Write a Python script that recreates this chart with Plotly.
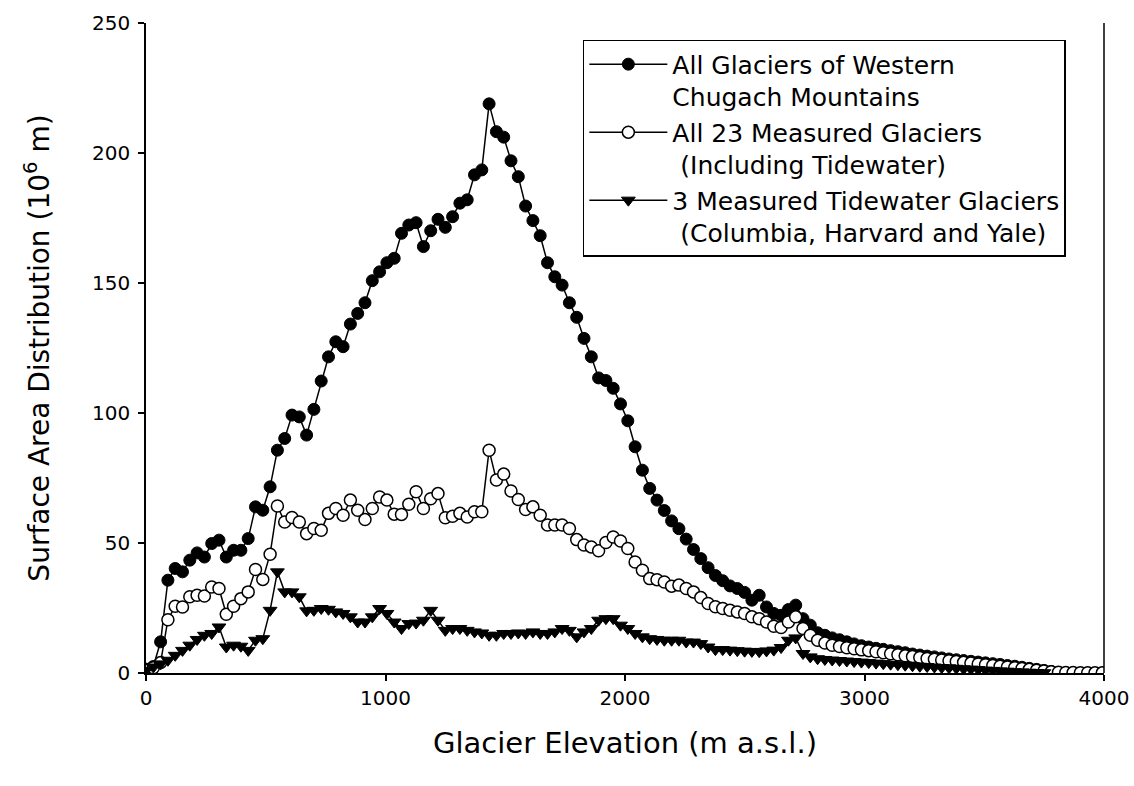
import plotly.graph_objects as go

# elevation bins are 100 ft wide, plotted in metres
elev_ft = list(range(0, 13200, 100))
elev_m = [f * 0.3048 for f in elev_ft]

all_western_chugach = [
    1.5, 2.5, 12, 35.7, 40.2, 38.9, 43.4, 46.2, 44.6, 49.8,
    51.1, 44.6, 47.2, 47.2, 51.7, 63.9, 62.6, 71.6, 85.7, 90.2,
    99.2, 98.5, 91.5, 101.4, 112.3, 121.6, 127.4, 125.5, 134.2, 138.3,
    142.4, 150.9, 154.3, 157.8, 159.5, 169.1, 172.3, 173.2, 164, 170.1,
    174.5, 171.4, 175.5, 180.7, 182, 191.6, 193.5, 218.9, 208.2, 206.1,
    197, 190.9, 179.6, 174, 168.2, 157.8, 152.4, 149.2, 142.4, 136.8,
    128.7, 121.6, 113.5, 112.5, 109.5, 103.5, 97, 87, 78, 71,
    66.5, 62.5, 58.5, 55.5, 51.5, 47.5, 44, 40.5, 37.5, 35.5,
    33.5, 32.5, 31, 28, 29.9, 25.4, 22.9, 22.2, 24.4, 26.1,
    20.9, 18.4, 15.5, 14.5, 13.5, 12.8, 12, 11.2, 10.5, 10,
    9.5, 9.1, 8.6, 8.2, 7.8, 7.3, 6.9, 6.5, 6.2, 5.8,
    5.4, 5.1, 4.8, 4.5, 4.2, 3.9, 3.6, 3.3, 2.9, 2.6,
    2.2, 1.8, 1.4, 1.0, 0.6,
]

measured_23 = [
    1, 2, 4, 20.5, 25.7, 25.4, 29.3, 29.9, 29.6, 33.1,
    32.5, 22.6, 25.7, 28.6, 31.2, 39.8, 36, 45.7, 64.2, 58.1,
    59.8, 58.1, 53.6, 55.6, 54.9, 61.4, 63.3, 60.7, 66.5, 62.6,
    59, 63.3, 67.7, 66.5, 61.1, 61, 64.9, 69.7, 63.3, 67,
    69, 59.7, 60.3, 61.4, 60, 62, 62, 85.7, 74.2, 76.5,
    70, 66.7, 62.9, 63.9, 60.7, 56.9, 56.9, 56.9, 55.6, 51.3,
    49.2, 48.5, 47, 50.2, 52.3, 50.8, 47.9, 42.7, 39.5, 36.3,
    35.9, 35, 33.4, 33.8, 32.5, 31.2, 29, 26.7, 25.5, 24.8,
    24.1, 23.5, 22.9, 21.6, 20.9, 19.6, 18, 17.5, 19.6, 21.6,
    17.1, 14.5, 12.6, 11.5, 10.7, 10.2, 9.7, 9.3, 8.9, 8.6,
    8.2, 7.8, 7.4, 7.0, 6.6, 6.3, 6.0, 5.6, 5.3, 5.0,
    4.7, 4.4, 4.1, 3.8, 3.5, 3.2, 2.9, 2.6, 2.3, 2.0,
    1.7, 1.4, 1.1, 0.8, 0.5, 0.3, 0.2, 0.15, 0.1, 0.1,
    0.05, 0.05,
]

tidewater_3 = [
    1, 2.3, 3.5, 4.9, 6.8, 8.7, 10.7, 12.9, 14.5, 15.2,
    17.7, 10, 10.7, 10.3, 8.7, 12.6, 13.2, 24.1, 38.9, 31.2,
    31.2, 29.3, 23.9, 24.1, 24.8, 24.5, 23.5, 22.9, 21.6, 19.6,
    19.6, 21.6, 24.8, 22.9, 19.6, 17.1, 19, 19.2, 20.3, 24.1,
    20.3, 16.4, 17.1, 17.1, 16.4, 15.8, 15.4, 14.5, 14.5, 15.2,
    15.2, 15.4, 15.2, 15.8, 15.2, 15.2, 15.8, 17.1, 16.4, 13.9,
    15.8, 17.1, 20.3, 20.9, 20.9, 18.4, 17.1, 15.2, 13.9, 13.2,
    12.9, 12.6, 12.6, 12.6, 11.9, 11.9, 11.3, 10, 9, 9,
    8.8, 8.6, 8.4, 8.3, 8.2, 8.5, 8.8, 9.8, 12.6, 13.5,
    7.5, 6.2, 5.5, 5.2, 5.0, 4.8, 4.6, 4.4, 4.2, 4.0,
    3.8, 3.6, 3.4, 3.2, 3.0, 2.8, 2.6, 2.5, 2.3, 2.1,
    2.0, 1.8, 1.6, 1.5, 1.3, 1.1, 1.0, 0.8, 0.7, 0.5,
    0.4, 0.3, 0.2, 0.1,
]

names = [
    "All Glaciers of Western<br>Chugach Mountains",
    "All 23 Measured Glaciers<br>\u00a0(Including Tidewater)",
    "3 Measured Tidewater Glaciers<br>\u00a0(Columbia, Harvard and Yale)",
]

font_name = "DejaVu Sans"
ink = "#000000"

fig = go.Figure()

fig.add_trace(go.Scatter(
    x=elev_m[:len(all_western_chugach)], y=all_western_chugach,
    name=names[0], mode="lines+markers",
    line=dict(color=ink, width=1.5),
    marker=dict(symbol="circle", size=12, color=ink, line=dict(color=ink, width=1)),
))
fig.add_trace(go.Scatter(
    x=elev_m[:len(measured_23)], y=measured_23,
    name=names[1], mode="lines+markers",
    line=dict(color=ink, width=1.5),
    marker=dict(symbol="circle", size=12, color="white", line=dict(color=ink, width=1.5)),
))
fig.add_trace(go.Scatter(
    x=elev_m[:len(tidewater_3)], y=tidewater_3,
    name=names[2], mode="lines+markers",
    line=dict(color=ink, width=1.5),
    marker=dict(symbol="triangle-down", size=12, color=ink, line=dict(color=ink, width=1)),
))

fig.update_layout(
    width=1134, height=786,
    margin=dict(l=146, r=30, t=23, b=113),
    paper_bgcolor="white", plot_bgcolor="white",
    font=dict(family=font_name, color=ink, size=20),
    showlegend=True,
    legend=dict(
        x=0.456, y=0.974, xanchor="left", yanchor="top",
        bgcolor="white", bordercolor=ink, borderwidth=1.5,
        font=dict(family=font_name, size=25, color=ink),
        valign="top", itemwidth=78, tracegroupgap=4,
    ),
)

fig.update_xaxes(
    range=[0, 4000], tickvals=[0, 1000, 2000, 3000, 4000],
    showgrid=False, zeroline=False, automargin=False,
    showline=True, linecolor=ink, linewidth=1.5,
    ticks="outside", ticklen=6, tickwidth=1.5, tickcolor=ink,
    tickfont=dict(family=font_name, size=20),
    title=dict(text="Glacier Elevation (m a.s.l.)", font=dict(family=font_name, size=29), standoff=24),
)
fig.update_yaxes(
    range=[0, 250], tickvals=[0, 50, 100, 150, 200, 250],
    showgrid=False, zeroline=False, automargin=False,
    showline=True, linecolor=ink, linewidth=1.5,
    ticks="outside", ticklen=6, tickwidth=1.5, tickcolor=ink,
    tickfont=dict(family=font_name, size=20), ticklabelstandoff=4,
    title=dict(text="Surface Area Distribution (10<sup>6</sup> m)",
               font=dict(family=font_name, size=28), standoff=34),
)

# right-hand frame line
fig.add_shape(type="line", xref="paper", yref="paper", x0=1, x1=1, y0=0, y1=1,
              line=dict(color=ink, width=1.5))

# drop the default 8 px body margin so the figure fills the window exactly
fig.write_html("out.html", config={"displayModeBar": False},
               post_script="document.body.style.margin='0';")
